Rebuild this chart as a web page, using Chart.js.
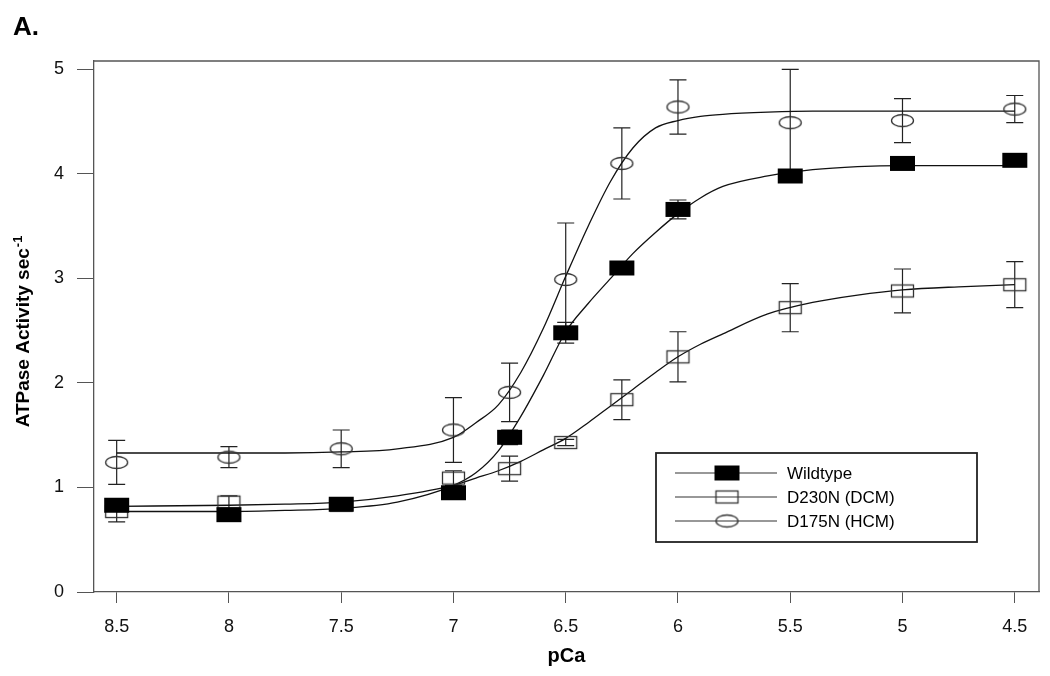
<!DOCTYPE html>
<html>
<head>
<meta charset="utf-8">
<script src="https://cdn.jsdelivr.net/npm/chart.js@4"></script>
<style>
  body { margin: 0; background: #fff; }
  canvas { display: block; }
</style>
</head>
<body>
<canvas id="atpaseChart" width="1050" height="676"></canvas>
<script>
// measured points (pCa, ATPase activity sec^-1)
const pCa = [8.5, 8, 7.5, 7, 6.75, 6.5, 6.25, 6, 5.5, 5, 4.5];
const wildtype = [0.83, 0.74, 0.84, 0.95, 1.48, 2.48, 3.10, 3.66, 3.98, 4.10, 4.13];
const wildtypeErr = [0.03, 0.03, 0.03, 0.04, 0.07, 0.10, 0.05, 0.09, 0.04, 0.04, 0.03];
const d230n = [0.77, 0.86, 0.83, 1.09, 1.18, 1.43, 1.84, 2.25, 2.72, 2.88, 2.94];
const d230nErr = [0.10, 0.06, 0.05, 0.07, 0.12, 0.03, 0.19, 0.24, 0.23, 0.21, 0.22];
const d175n = [1.24, 1.29, 1.37, 1.55, 1.91, 2.99, 4.10, 4.64, 4.49, 4.51, 4.62];
const d175nErr = [0.21, 0.10, 0.18, 0.31, 0.28, 0.54, 0.34, 0.26, 0.51, 0.21, 0.13];

// fitted curves
const fitPCa = [8.5, 8, 7.75, 7.5, 7.25, 7, 6.9, 6.8, 6.7, 6.6, 6.5, 6.4, 6.3, 6.2, 6.1, 6, 5.9, 5.8, 5.6, 5.4, 5.2, 5, 4.75, 4.5];
const wildtypeFit = [0.77, 0.77, 0.78, 0.80, 0.86, 1.02, 1.14, 1.35, 1.68, 2.07, 2.49, 2.76, 3.00, 3.24, 3.44, 3.62, 3.77, 3.88, 3.98, 4.04, 4.07, 4.08, 4.08, 4.08];
const d230nFit = [0.82, 0.83, 0.84, 0.86, 0.92, 1.02, 1.09, 1.16, 1.25, 1.36, 1.47, 1.62, 1.78, 1.94, 2.10, 2.25, 2.37, 2.47, 2.66, 2.77, 2.84, 2.89, 2.92, 2.94];
const d175nFit = [1.33, 1.33, 1.33, 1.34, 1.37, 1.48, 1.62, 1.79, 2.10, 2.52, 3.02, 3.50, 3.93, 4.25, 4.44, 4.51, 4.55, 4.57, 4.59, 4.60, 4.60, 4.60, 4.60, 4.60];

const xTicks = [8.5, 8, 7.5, 7, 6.5, 6, 5.5, 5, 4.5];
const yTicks = [0, 1, 2, 3, 4, 5];
const seriesNames = ['Wildtype', 'D230N (DCM)', 'D175N (HCM)'];

const FONT = "'Liberation Sans', Arial, sans-serif";
const AXIS_COLOR = '#555';

// marker images (the source figure uses wide boxes / ellipses)
function makeMarker(w, h, draw) {
  const c = document.createElement('canvas');
  c.width = w + 4;
  c.height = h + 4;
  const ctx = c.getContext('2d');
  draw(ctx, w, h, c);
  return c;
}
const filledBox = makeMarker(25, 15, (ctx, w, h) => {
  ctx.fillStyle = '#000';
  ctx.fillRect(2, 2, w, h);
});
const openBox = makeMarker(23, 13, (ctx, w, h) => {
  ctx.strokeStyle = '#333';
  ctx.lineWidth = 1.3;
  ctx.strokeRect(2.5, 2.5, w - 1, h - 1);
});
const openEllipse = makeMarker(23, 13, (ctx, w, h, c) => {
  ctx.strokeStyle = '#333';
  ctx.lineWidth = 1.3;
  ctx.beginPath();
  ctx.ellipse(c.width / 2, c.height / 2, w / 2 - 0.5, h / 2 - 0.5, 0, 0, Math.PI * 2);
  ctx.stroke();
});
const markers = [filledBox, openBox, openEllipse];

const toPoints = (xs, ys) => xs.map((x, i) => ({ x: x, y: ys[i] }));

const errorSets = [
  { values: wildtype, err: wildtypeErr },
  { values: d230n, err: d230nErr },
  { values: d175n, err: d175nErr },
];

// error bars behind the markers
const errorBarPlugin = {
  id: 'errorBars',
  beforeDatasetsDraw(chart) {
    const { ctx, scales: { x, y } } = chart;
    ctx.save();
    ctx.strokeStyle = '#222';
    ctx.lineWidth = 1.2;
    errorSets.forEach((set) => {
      pCa.forEach((p, i) => {
        const px = x.getPixelForValue(p);
        const top = y.getPixelForValue(set.values[i] + set.err[i]);
        const bot = y.getPixelForValue(set.values[i] - set.err[i]);
        ctx.beginPath();
        ctx.moveTo(px, top);
        ctx.lineTo(px, bot);
        ctx.moveTo(px - 8.5, top);
        ctx.lineTo(px + 8.5, top);
        ctx.moveTo(px - 8.5, bot);
        ctx.lineTo(px + 8.5, bot);
        ctx.stroke();
      });
    });
    ctx.restore();
  }
};

// box, titles, panel letter, legend
const decorPlugin = {
  id: 'decor',
  afterDraw(chart) {
    const { ctx, chartArea: a } = chart;
    ctx.save();

    ctx.strokeStyle = AXIS_COLOR;
    ctx.lineWidth = 1.3;
    ctx.beginPath();
    ctx.moveTo(a.left, a.top);
    ctx.lineTo(a.right, a.top);
    ctx.lineTo(a.right, a.bottom);
    ctx.stroke();

    ctx.fillStyle = '#000';
    ctx.font = 'bold 26px ' + FONT;
    ctx.textAlign = 'left';
    ctx.textBaseline = 'alphabetic';
    ctx.fillText('A.', 13, 35);

    ctx.font = 'bold 20px ' + FONT;
    ctx.textAlign = 'center';
    ctx.textBaseline = 'middle';
    ctx.fillText('pCa', (a.left + a.right) / 2, 656);

    // rotated y title with superscript
    ctx.save();
    ctx.translate(24, 332);
    ctx.rotate(-Math.PI / 2);
    ctx.font = 'bold 19px ' + FONT;
    const main = 'ATPase Activity sec';
    const mainW = ctx.measureText(main).width;
    ctx.font = 'bold 13px ' + FONT;
    const supW = ctx.measureText('-1').width;
    const startX = -(mainW + supW) / 2;
    ctx.textAlign = 'left';
    ctx.textBaseline = 'middle';
    ctx.font = 'bold 19px ' + FONT;
    ctx.fillText(main, startX, 0);
    ctx.font = 'bold 13px ' + FONT;
    ctx.fillText('-1', startX + mainW + 1, -6);
    ctx.restore();

    // legend
    const lx = 656, ly = 453, lw = 321, lh = 89;
    ctx.strokeStyle = '#222';
    ctx.lineWidth = 1.8;
    ctx.strokeRect(lx, ly, lw, lh);
    ctx.font = '17px ' + FONT;
    ctx.textAlign = 'left';
    ctx.textBaseline = 'middle';
    seriesNames.forEach((name, i) => {
      const ry = 473 + i * 24;
      ctx.strokeStyle = '#333';
      ctx.lineWidth = 1.2;
      ctx.beginPath();
      ctx.moveTo(675, ry);
      ctx.lineTo(777, ry);
      ctx.stroke();
      const m = markers[i];
      ctx.drawImage(m, 727 - m.width / 2, ry - m.height / 2);
      ctx.fillStyle = '#000';
      ctx.fillText(name, 787, ry + 1);
    });

    ctx.restore();
  }
};

const fitStyle = {
  showLine: true,
  pointRadius: 0,
  borderColor: '#111',
  borderWidth: 1.3,
  cubicInterpolationMode: 'monotone',
  fill: false,
};

const markerStyle = (m) => ({
  showLine: false,
  pointStyle: m,
  pointRadius: 8,
  borderWidth: 0,
});

new Chart(document.getElementById('atpaseChart'), {
  type: 'scatter',
  data: {
    datasets: [
      { label: seriesNames[0], data: toPoints(pCa, wildtype), ...markerStyle(filledBox) },
      { label: seriesNames[1], data: toPoints(pCa, d230n), ...markerStyle(openBox) },
      { label: seriesNames[2], data: toPoints(pCa, d175n), ...markerStyle(openEllipse) },
      { label: 'fit wt', data: toPoints(fitPCa, wildtypeFit), ...fitStyle },
      { label: 'fit dcm', data: toPoints(fitPCa, d230nFit), ...fitStyle },
      { label: 'fit hcm', data: toPoints(fitPCa, d175nFit), ...fitStyle },
    ]
  },
  options: {
    responsive: false,
    animation: false,
    devicePixelRatio: 1,
    events: [],
    layout: { padding: { top: 61, right: 11, left: 0, bottom: 0 } },
    plugins: {
      legend: { display: false },
      tooltip: { enabled: false },
    },
    scales: {
      x: {
        type: 'linear',
        reverse: true,
        min: 4.392,
        max: 8.601,
        afterBuildTicks: (scale) => { scale.ticks = xTicks.map((v) => ({ value: v })); },
        afterFit: (scale) => { scale.height = 84; },
        grid: { drawOnChartArea: false, drawTicks: true, tickLength: 11, color: AXIS_COLOR, lineWidth: 1 },
        border: { display: true, color: AXIS_COLOR, width: 1.3 },
        ticks: {
          padding: 13,
          color: '#111',
          maxRotation: 0,
          font: { family: FONT, size: 18 },
          callback: (v) => String(v),
        },
      },
      y: {
        type: 'linear',
        min: 0,
        max: 5.08,
        afterBuildTicks: (scale) => { scale.ticks = yTicks.map((v) => ({ value: v })); },
        afterFit: (scale) => { scale.width = 94; },
        grid: { drawOnChartArea: false, drawTicks: true, tickLength: 17, color: AXIS_COLOR, lineWidth: 1 },
        border: { display: true, color: AXIS_COLOR, width: 1.3 },
        ticks: {
          padding: 13,
          color: '#111',
          font: { family: FONT, size: 18 },
          callback: (v) => String(v),
        },
      },
    },
  },
  plugins: [errorBarPlugin, decorPlugin],
});
</script>
</body>
</html>
